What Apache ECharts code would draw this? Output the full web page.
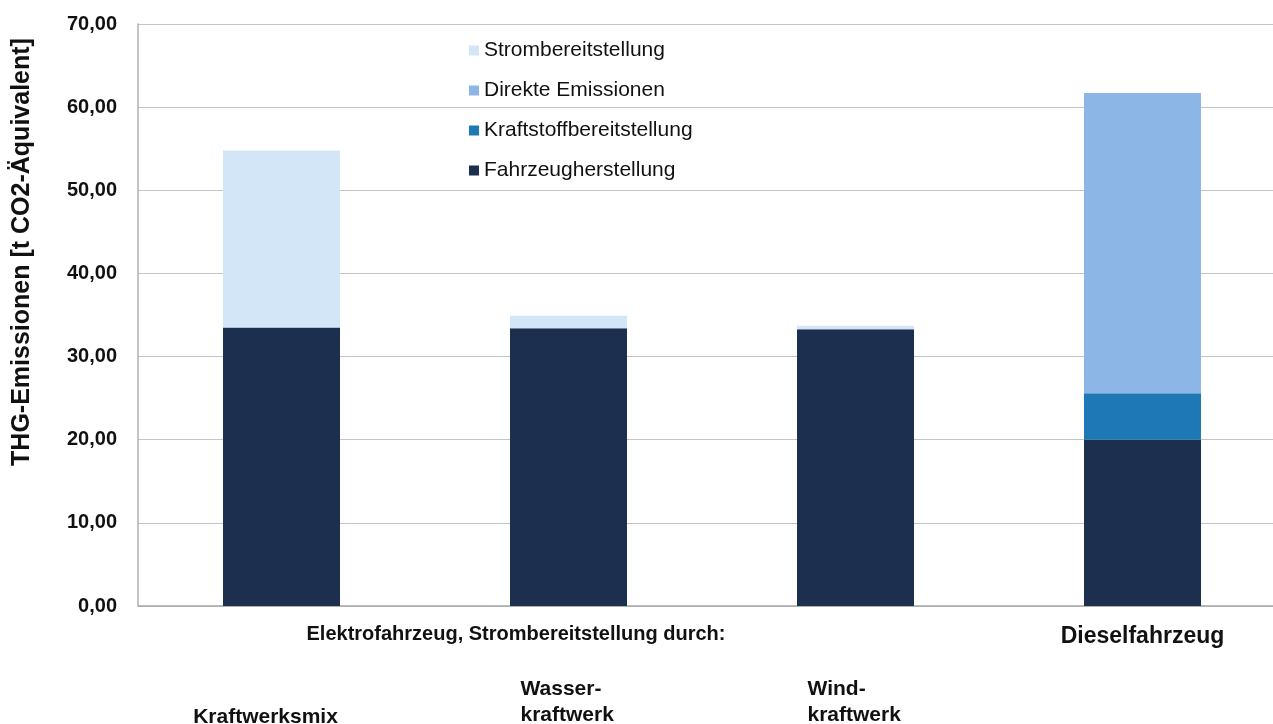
<!DOCTYPE html>
<html>
<head>
<meta charset="utf-8">
<script src="https://cdn.jsdelivr.net/npm/echarts@6/dist/echarts.min.js"></script>
<style>
html,body{margin:0;padding:0;background:#fff;}
#chart{width:1273px;height:724px;}
</style>
</head>
<body>
<div id="chart"></div>
<script>
// ---- data ----
const categories = ['Kraftwerksmix', 'Wasser-\nkraftwerk', 'Wind-\nkraftwerk', 'Dieselfahrzeug'];
const fahrzeugherstellung = [33.5, 33.4, 33.3, 20.0];
const kraftstoffbereitstellung = [0, 0, 0, 5.6];
const direkteEmissionen = [0, 0, 0, 36.1];
const strombereitstellung = [21.3, 1.5, 0.4, 0];
const yTicks = { min: 0, max: 70, interval: 10 };
const groupTitle = 'Elektrofahrzeug, Strombereitstellung durch:';
const yAxisTitle = 'THG-Emissionen [t CO2-Äquivalent]';

const FONT = '"Liberation Sans", Arial, Helvetica, sans-serif';
const chart = echarts.init(document.getElementById('chart'), null, { renderer: 'canvas' });

function xLabel(v, i) {
  if (i === 3) return '{d|' + v + '}';
  const parts = v.split('\n');
  if (parts.length === 1) return '\n\n\n{k|' + parts[0] + '}';
  return '\n\n' + parts.map(s => '{w|' + s + '}').join('\n');
}

const mkSeries = (name, data, color) => ({
  name, type: 'bar', stack: 'total', data, barWidth: 117,
  itemStyle: { color }, emphasis: { disabled: true }
});

chart.setOption({
  animation: false,
  backgroundColor: '#ffffff',
  textStyle: { fontFamily: FONT },
  grid: { left: 138, top: 24, width: 1148, height: 582, containLabel: false, outerBoundsMode: 'none' },
  legend: {
    orient: 'vertical', left: 464, top: 35, itemWidth: 10, itemHeight: 10, itemGap: 19,
    icon: 'rect',
    data: ['Strombereitstellung', 'Direkte Emissionen', 'Kraftstoffbereitstellung', 'Fahrzeugherstellung'],
    textStyle: { fontFamily: FONT, fontSize: 21, color: '#111', padding: [0, 0, 0, 0] },
    selectedMode: false
  },
  xAxis: {
    type: 'category', data: categories,
    axisLine: { show: true, lineStyle: { color: '#a8a8a8', width: 1.5 } },
    axisTick: { show: false },
    splitLine: { show: false },
    axisLabel: {
      interval: 0, margin: 18, lineHeight: 26, color: '#111',
      fontFamily: FONT, fontSize: 21, fontWeight: 'bold',
      formatter: xLabel,
      rich: {
        d: { fontFamily: FONT, fontSize: 23, fontWeight: 'bold', color: '#111', lineHeight: 26 },
        k: { fontFamily: FONT, fontSize: 21, fontWeight: 'bold', color: '#111', lineHeight: 26, padding: [4, 32, 0, 0] },
        w: { fontFamily: FONT, fontSize: 21, fontWeight: 'bold', color: '#111', lineHeight: 26, width: 96, align: 'left' }
      }
    }
  },
  yAxis: {
    type: 'value', min: yTicks.min, max: yTicks.max, interval: yTicks.interval,
    axisLine: { show: true, lineStyle: { color: '#b0b0b0', width: 1.5 } },
    axisTick: { show: false },
    splitLine: { show: true, lineStyle: { color: '#c4c4c4', width: 1.2 } },
    axisLabel: {
      margin: 21, color: '#111', fontFamily: FONT, fontSize: 20, fontWeight: 'bold',
      formatter: v => v.toFixed(2).replace('.', ',')
    }
  },
  graphic: [
    {
      type: 'text', x: 22, y: 252, rotation: Math.PI / 2,
      style: { text: yAxisTitle, fontFamily: FONT, fontSize: 25, fontWeight: 'bold', fill: '#111', align: 'center', verticalAlign: 'middle' }
    },
    {
      type: 'text', x: 516, y: 634,
      style: { text: groupTitle, fontFamily: FONT, fontSize: 20, fontWeight: 'bold', fill: '#111', align: 'center', verticalAlign: 'middle' }
    }
  ],
  series: [
    mkSeries('Fahrzeugherstellung', fahrzeugherstellung, '#1c2f4e'),
    mkSeries('Kraftstoffbereitstellung', kraftstoffbereitstellung, '#1f78b6'),
    mkSeries('Direkte Emissionen', direkteEmissionen, '#8cb6e6'),
    mkSeries('Strombereitstellung', strombereitstellung, '#d3e6f8')
  ]
});
</script>
</body>
</html>
